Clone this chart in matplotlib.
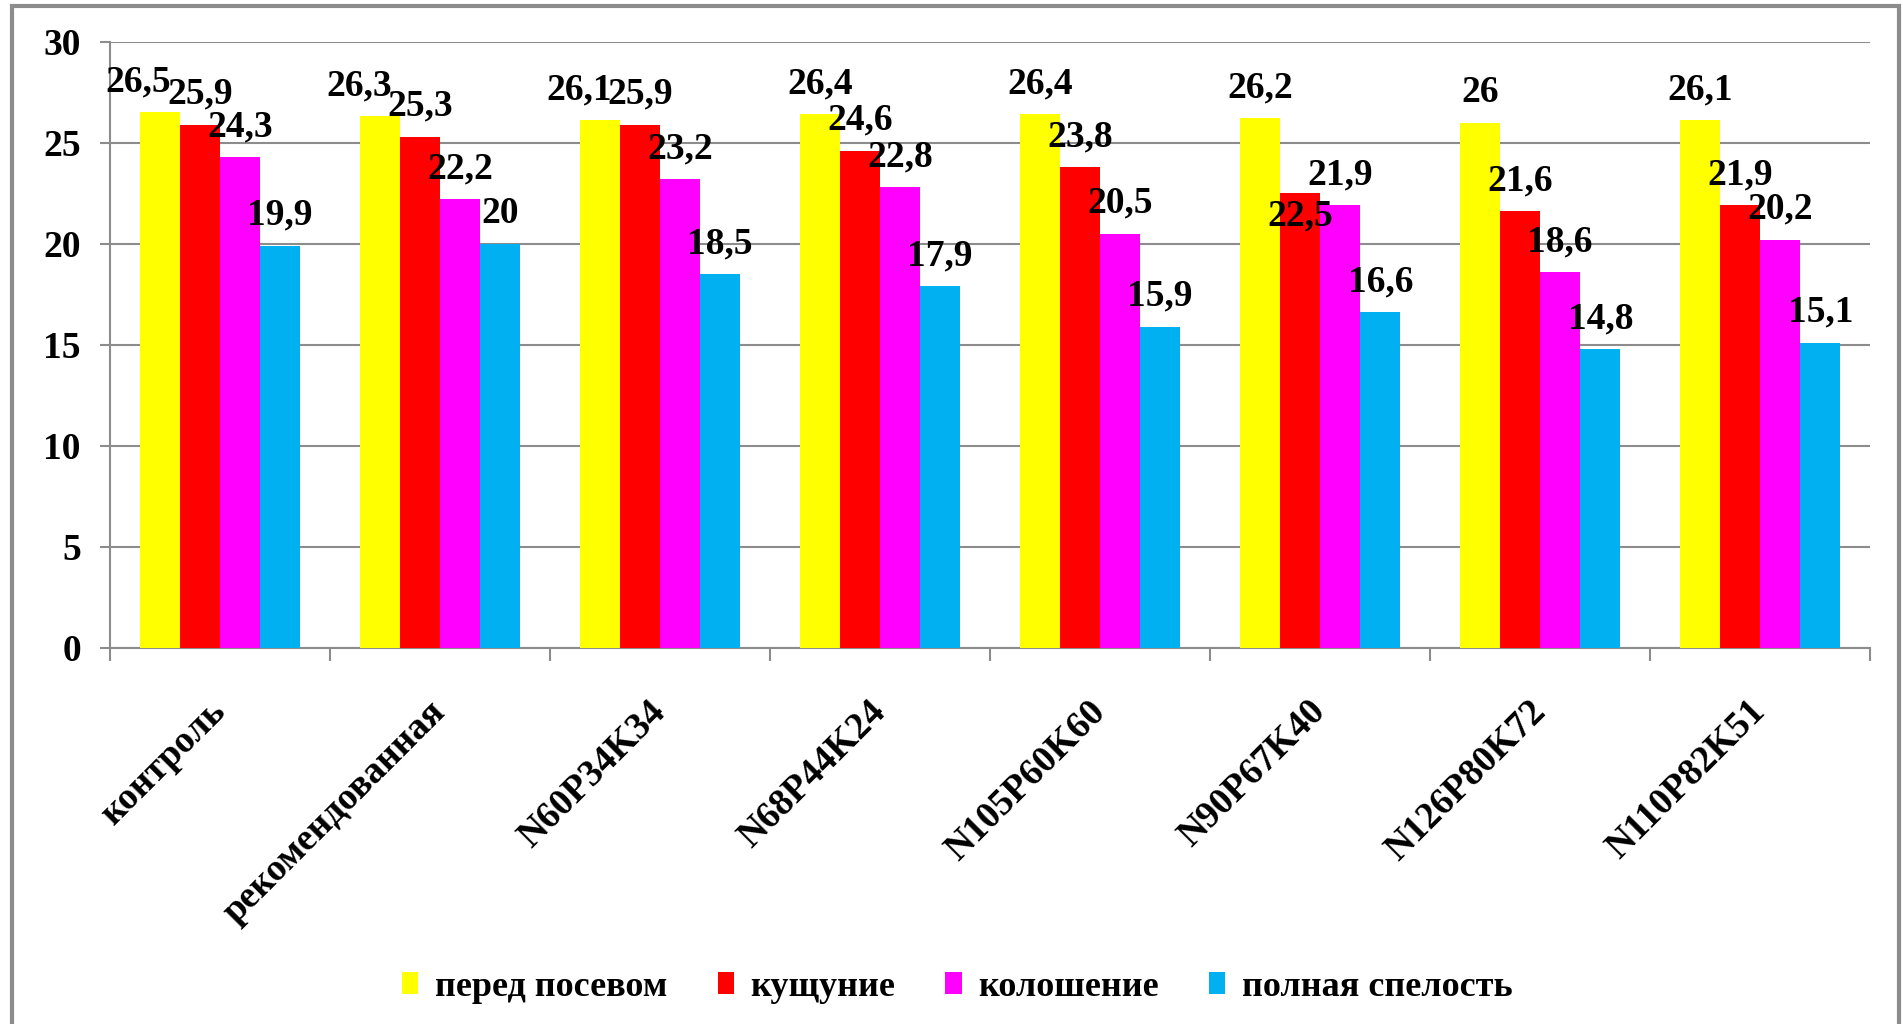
import matplotlib
matplotlib.use("Agg")
import matplotlib.pyplot as plt
from matplotlib.patches import Rectangle
from matplotlib.transforms import ScaledTranslation
import numpy as np

plt.rcParams['font.family'] = ['Liberation Serif', 'DejaVu Serif']
plt.rcParams['font.weight'] = 'bold'

categories = ['контроль', 'рекомендованная', 'N60P34K34', 'N68P44K24',
              'N105P60K60', 'N90P67K40', 'N126P80K72', 'N110P82K51']
series = ['перед посевом', 'кущуние', 'колошение', 'полная спелость']
before_sowing = [26.5, 26.3, 26.1, 26.4, 26.4, 26.2, 26.0, 26.1]
tillering = [25.9, 25.3, 25.9, 24.6, 23.8, 22.5, 21.6, 21.9]
heading = [24.3, 22.2, 23.2, 22.8, 20.5, 21.9, 18.6, 20.2]
full_ripeness = [19.9, 20.0, 18.5, 17.9, 15.9, 16.6, 14.8, 15.1]
yticks = [0, 5, 10, 15, 20, 25, 30]

colors = ['#FFFF00', '#FF0000', '#FF00FF', '#00B0F0']
values = [before_sowing, tillering, heading, full_ripeness]
FS = 27

# hand nudges for labels that Excel moved (series, group): (dx, dy) in points
nudges = {(0, 0): (-16, 0), (0, 1): (-15, 0), (0, 2): (-15, 0),
          (1, 5): (0, -38)}

fig = plt.figure(figsize=(19.03, 10.24), dpi=100)
ax = fig.add_axes([0.0578, 0.3672, 0.925, 0.5921])

x = np.arange(len(categories))
w = 0.182
for i, (vals, c) in enumerate(zip(values, colors)):
    pos = x + (i - 1.5) * w
    ax.bar(pos, vals, width=w, color=c, label=series[i], zorder=3)
    for j, v in enumerate(vals):
        dx, dy = nudges.get((i, j), (0, 0))
        txt = ('%g' % v).replace('.', ',')
        ax.annotate(txt, (pos[j], v), xytext=(dx, 15 + dy),
                    textcoords='offset points', ha='center', va='baseline',
                    fontsize=FS, fontweight='bold', zorder=5)

ax.set_xlim(-0.5, len(categories) - 0.5)
ax.set_ylim(0, 30)
ax.set_yticks(yticks)
ax.set_yticklabels([str(t) for t in yticks], fontsize=FS, fontweight='bold')
ax.yaxis.grid(True, color='#8c8c8c', linewidth=1.5, zorder=0)
ax.set_axisbelow(True)

ax.set_xticks(x)
ax.set_xticklabels(categories, rotation=45, ha='right', va='center',
                   rotation_mode='anchor', fontsize=FS, fontweight='bold')
shift = ScaledTranslation(10 / 100, 0, fig.dpi_scale_trans)
for lab in ax.get_xticklabels():
    lab.set_transform(lab.get_transform() + shift)
ax.set_xticks(np.arange(len(categories) + 1) - 0.5, minor=True)
ax.tick_params(axis='x', which='major', length=0, pad=42)
ax.tick_params(axis='x', which='minor', length=9, width=1.5, color='#8c8c8c')
ax.tick_params(axis='y', length=7, width=1.5, color='#8c8c8c', pad=14)

for s in ['top', 'right']:
    ax.spines[s].set_visible(False)
for s in ['left', 'bottom']:
    ax.spines[s].set_color('#8c8c8c')
    ax.spines[s].set_linewidth(1.5)

fig.legend(loc='center', bbox_to_anchor=(0.503, 0.036), ncol=4,
           frameon=False, handlelength=0.45, handleheight=0.55,
           handletextpad=0.45, columnspacing=1.4,
           prop={'family': ['Liberation Serif'], 'weight': 'bold', 'size': 26})

fig.patches.append(Rectangle((12 / 1903, -0.05), 1887 / 1903, 1.05 - 6 / 1024,
                             transform=fig.transFigure, fill=False,
                             edgecolor='#8c8c8c', linewidth=3))

fig.savefig('out.png', dpi=100)
